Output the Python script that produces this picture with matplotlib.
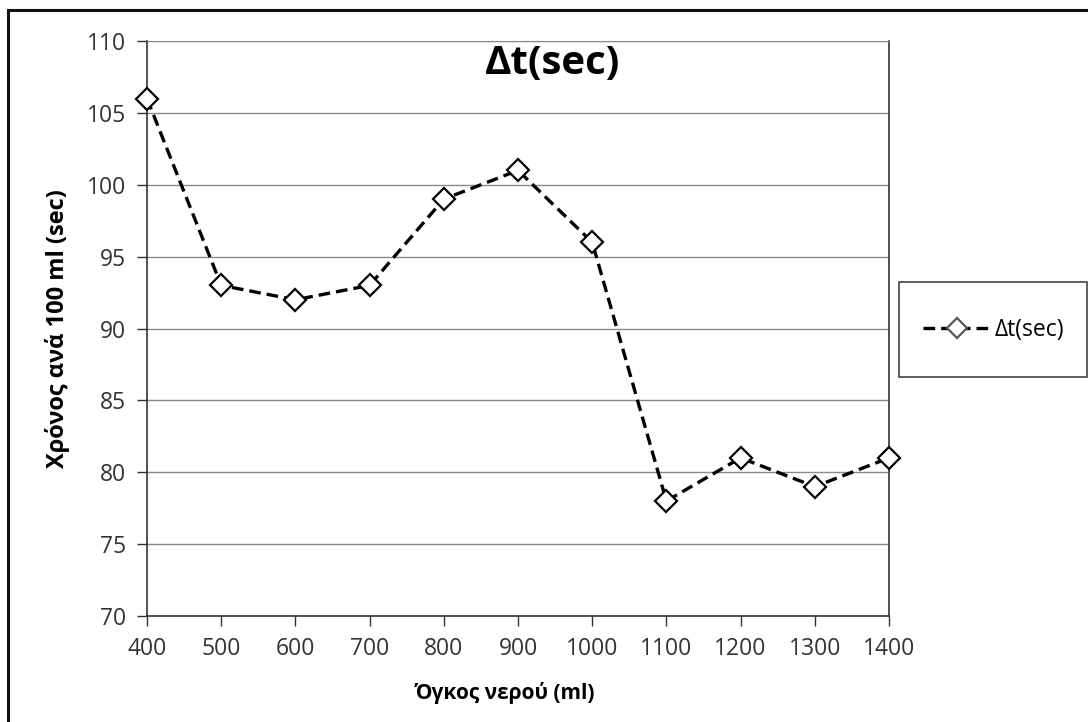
import matplotlib.pyplot as plt
from matplotlib.patches import Rectangle

plt.rcParams['font.family'] = ['Open Sans', 'DejaVu Sans']

volume_ml = [400, 500, 600, 700, 800, 900, 1000, 1100, 1200, 1300, 1400]
dt_sec = [106, 93, 92, 93, 99, 101, 96, 78, 81, 79, 81]
y_ticks = [70, 75, 80, 85, 90, 95, 100, 105, 110]

W, H = 1088, 722
fig = plt.figure(figsize=(W / 100, H / 100), dpi=100)
ax = fig.add_axes([147 / W, 1 - 616 / H, (889 - 147) / W, (616 - 41) / H])

ax.plot(volume_ml, dt_sec, color='black', lw=2.4, dashes=(3.5, 1.8),
        marker='D', markersize=11.5, markerfacecolor='white',
        markeredgecolor='black', markeredgewidth=1.6, label='Δt(sec)',
        clip_on=False, zorder=3)

ax.set_xlim(400, 1400)
ax.set_ylim(70, 110)
ax.set_xticks(volume_ml)
ax.set_yticks(y_ticks)
ax.grid(axis='y', color='#8a8a8a', lw=1)
ax.set_axisbelow(True)
ax.tick_params(direction='out', length=7, width=1, color='#333333',
               labelsize=16.5, labelcolor='#333333', pad=8)
for side in ['left', 'bottom', 'right']:
    ax.spines[side].set_color('#333333')
    ax.spines[side].set_linewidth(1.2)
ax.spines['top'].set_color('#8a8a8a')

ax.set_xlabel('Όγκος νερού (ml)', fontsize=15, fontweight='bold')
ax.xaxis.set_label_coords((505 - 147) / (889 - 147), -0.115)
ax.set_ylabel('Χρόνος ανά 100 ml (sec)', fontsize=17, fontweight='bold', labelpad=12)

fig.text(553 / W, 1 - 63 / H, 'Δt(sec)', fontsize=29, fontweight='bold',
         ha='center', va='center')

# legend box drawn by hand, entry placed inside it
fig.patches.append(Rectangle((899 / W, 1 - 377 / H), (1087 - 899) / W, 95 / H,
                             transform=fig.transFigure, fill=False,
                             edgecolor='#444444', lw=1.2))
leg = fig.legend(loc='center left', bbox_to_anchor=(912 / W, 1 - 330 / H),
                 fontsize=16.5, frameon=False, handlelength=2.9,
                 borderpad=0, handletextpad=0.2)
for h in leg.legend_handles:
    h.set_markeredgecolor('#555555')
    h.set_markersize(10)

# outer frame, only the top and left edges fall inside the canvas
fig.patches.append(Rectangle((8 / W, -0.1), 1.2, 1 - 10 / H + 0.1,
                             transform=fig.transFigure, fill=False,
                             edgecolor='#111111', lw=2.2))

fig.savefig('out.png', dpi=100)
